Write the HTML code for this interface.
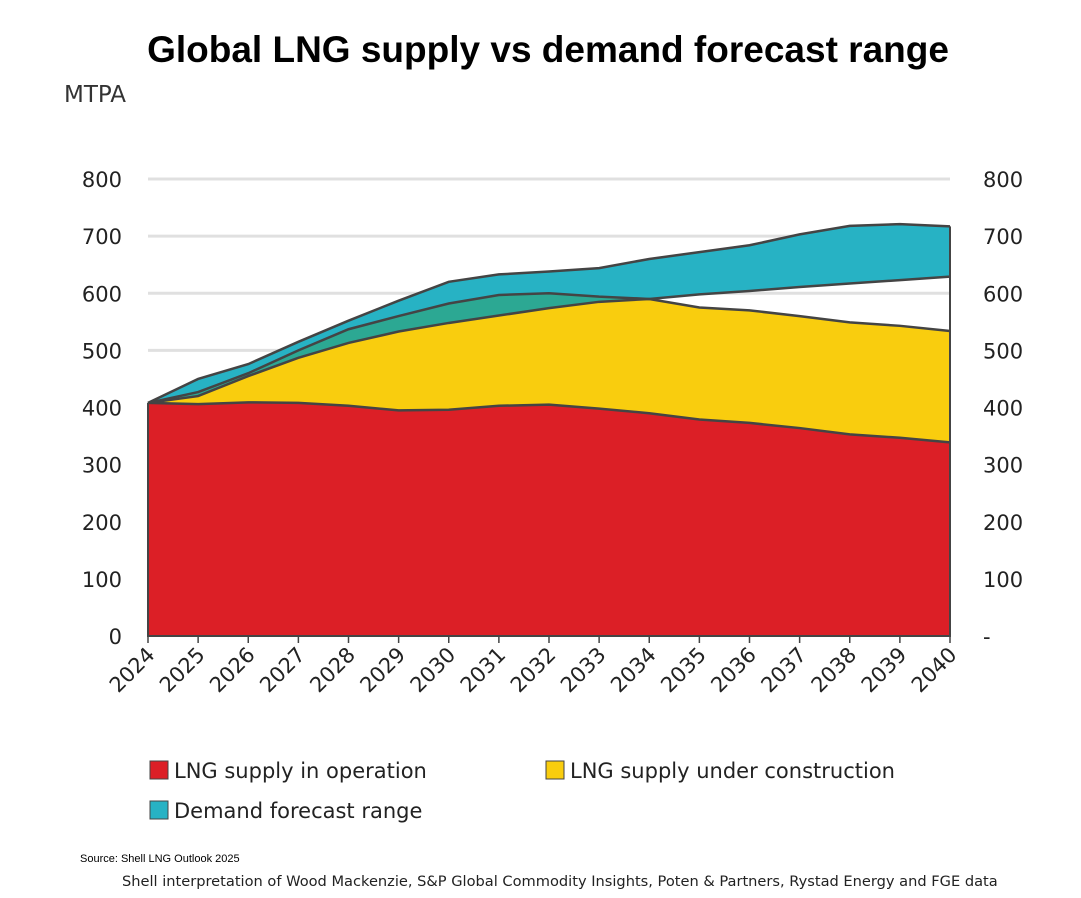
<!DOCTYPE html>
<html><head><meta charset="utf-8"><style>
body{margin:0;background:#fff;width:1081px;height:894px;overflow:hidden;font-family:"DejaVu Sans","Liberation Sans",sans-serif}
</style></head><body>
<svg width="1081" height="894" id="c">
<text x="548" y="62" text-anchor="middle" font-family="Liberation Sans" font-weight="bold" font-size="37">Global LNG supply vs demand forecast range</text>
<text x="64" y="102" font-size="23" fill="#333">MTPA</text>
<g id="grid"></g><g id="areas"></g><g id="axes"></g>
<g font-size="21" fill="#222">
<rect x="150" y="761" width="18" height="18" fill="#dc1f26" stroke="#444"/>
<text x="174" y="778">LNG supply in operation</text>
<rect x="546" y="761" width="18" height="18" fill="#f9cd0e" stroke="#444"/>
<text x="570" y="778">LNG supply under construction</text>
<rect x="150" y="801" width="18" height="18" fill="#27b2c4" stroke="#444"/>
<text x="174" y="818">Demand forecast range</text>
</g>
<text x="80" y="862" font-family="Liberation Sans" font-size="11">Source: Shell LNG Outlook 2025</text>
<text x="122" y="886" font-size="14.6" fill="#222">Shell interpretation of Wood Mackenzie, S&amp;P Global Commodity Insights, Poten &amp; Partners, Rystad Energy and FGE data</text>
</svg>
<script>
const years=[2024,2025,2026,2027,2028,2029,2030,2031,2032,2033,2034,2035,2036,2037,2038,2039,2040];
const operation=[408,406,409,408,403,395,396,403,405,398,390,379,373,364,353,347,339];
const totalSupply=[408,420,455,487,513,533,548,561,574,585,590,575,570,560,549,543,534];
const demandHigh=[408,450,476,515,552,587,620,633,638,644,660,672,684,703,718,721,717];
const demandLow=[408,427,460,500,537,560,582,597,600,594,590,598,604,611,617,623,629];
const yTicks=[0,100,200,300,400,500,600,700,800];
const rightLabels=["-","100","200","300","400","500","600","700","800"];
const NS="http://www.w3.org/2000/svg";
const x=i=>148+i*(950-148)/(years.length-1);
const y=v=>636-v*(636-179)/800;
function mk(t,a,p){const e=document.createElementNS(NS,t);for(const k in a)e.setAttribute(k,a[k]);p.appendChild(e);return e;}
const grid=document.getElementById('grid'),areas=document.getElementById('areas'),axes=document.getElementById('axes');
yTicks.forEach((v,i)=>{
 if(v>0){const g=mk('line',{x1:148,x2:950,y1:y(v),y2:y(v),stroke:'#e0e0e0','stroke-width':3},grid);
 
 }
 const l=mk('text',{x:122,y:y(v)+8,'text-anchor':'end','font-size':21,fill:'#222'},axes);l.textContent=v;
 
 
 const r=mk('text',{x:983,y:y(v)+8,'font-size':21,fill:'#222'},axes);r.textContent=rightLabels[i];
 
 
});
function band(top,bot){let d='M'+top.map((v,i)=>x(i)+','+y(v)).join('L');for(let i=bot.length-1;i>=0;i--)d+='L'+x(i)+','+y(bot[i]);return d+'Z';}
const zero=years.map(()=>0);
const greenTop=demandLow.map((v,i)=>Math.max(years[i]<=2034?v:totalSupply[i],totalSupply[i]));
const lowMax=demandLow.map((v,i)=>Math.max(v,totalSupply[i]));
const a1=mk('path',{d:band(operation,zero),fill:'#dc1f26'},areas);


const a2=mk('path',{d:band(totalSupply,operation),fill:'#f9cd0e'},areas);


const a3=mk('path',{d:band(greenTop,totalSupply),fill:'#2ca893'},areas);


const a4=mk('path',{d:band(demandHigh,lowMax),fill:'#27b2c4'},areas);


[[operation,'line-operation'],[totalSupply,'line-total-supply'],[demandHigh,'line-demand-high'],[demandLow,'line-demand-low']].forEach(([s,n])=>{
 const p=mk('path',{d:'M'+s.map((v,i)=>x(i)+','+y(v)).join('L'),fill:'none',stroke:'#444','stroke-width':2.5},areas);
 
 
});
const ax=mk('path',{d:`M148,${y(operation[0])}V636H950V${y(demandHigh[16])}`,fill:'none',stroke:'#444','stroke-width':2},axes);


years.forEach((yr,i)=>{
 const t=mk('line',{x1:x(i),x2:x(i),y1:636,y2:643,stroke:'#444','stroke-width':1.5},axes);
 
 
 const l=mk('text',{x:x(i)+8,y:656,'text-anchor':'end','font-size':21,fill:'#222',transform:`rotate(-45 ${x(i)+8} 656)`},axes);
 l.textContent=yr;
 
 
});
</script>
</body></html>
